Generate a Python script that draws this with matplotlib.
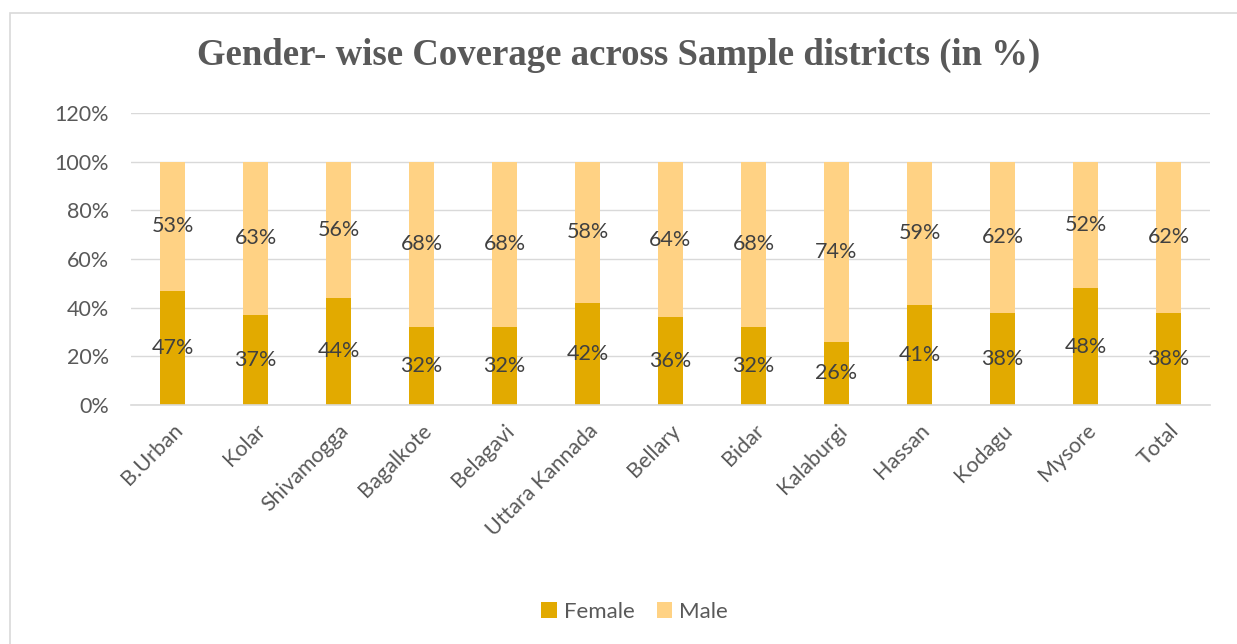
import matplotlib
matplotlib.use("Agg")
import matplotlib.pyplot as plt
import numpy as np
from matplotlib.patches import Rectangle
from matplotlib.ticker import PercentFormatter

districts = ["B.Urban", "Kolar", "Shivamogga", "Bagalkote", "Belagavi", "Uttara Kannada",
             "Bellary", "Bidar", "Kalaburgi", "Hassan", "Kodagu", "Mysore", "Total"]
female = [47, 37, 44, 32, 32, 42, 36, 32, 26, 41, 38, 48, 38]
male = [53, 63, 56, 68, 68, 58, 64, 68, 74, 59, 62, 52, 62]

FEMALE_C = "#E2AA00"
MALE_C = "#FFD284"
TEXT_C = "#595959"
GRID_C = "#D9D9D9"

plt.rcParams["font.family"] = ["Lato", "DejaVu Sans"]

fig = plt.figure(figsize=(12.37, 6.44), dpi=100)
fig.patches.append(Rectangle((10 / 1237, -0.01), 1.0, 1 - 13 / 644 + 0.01,
                             transform=fig.transFigure, fill=False,
                             edgecolor=GRID_C, linewidth=1.2))
ax = fig.add_axes([131 / 1237, 1 - 405 / 644, 1079 / 1237, 292 / 644])

x = np.arange(len(districts))
w = 0.31
bf = ax.bar(x, female, w, color=FEMALE_C, label="Female", zorder=2)
bm = ax.bar(x, male, w, bottom=female, color=MALE_C, label="Male", zorder=2)

# value labels centred in each segment
for i in range(len(districts)):
    ax.text(x[i], female[i] / 2, f"{female[i]}%", ha="center", va="center",
            fontsize=15.5, color="#404040", zorder=3)
    ax.text(x[i], female[i] + male[i] / 2, f"{male[i]}%", ha="center", va="center",
            fontsize=15.5, color="#404040", zorder=3)

ax.set_xlim(-0.5, len(districts) - 0.5)
ax.set_ylim(0, 120)
ax.set_yticks(range(0, 121, 20))
ax.yaxis.set_major_formatter(PercentFormatter(decimals=0))
ax.grid(axis="y", color=GRID_C, linewidth=1, zorder=0)
for s in ["top", "right", "left"]:
    ax.spines[s].set_visible(False)
ax.spines["bottom"].set_color(GRID_C)
ax.spines["bottom"].set_linewidth(1.2)
ax.tick_params(axis="both", length=0, colors=TEXT_C, labelsize=15.5)
ax.tick_params(axis="y", pad=16)
ax.tick_params(axis="x", pad=11)
ax.set_xticks(x)
ax.set_xticklabels(districts, rotation=45, ha="right", rotation_mode="anchor")

fig.text(0.5, 1 - 55 / 644, "Gender- wise Coverage across Sample districts (in %)",
         ha="center", va="center", fontsize=26.5, fontweight="bold",
         family="Liberation Serif", color=TEXT_C)

fig.legend(handles=[bf, bm], loc="center", bbox_to_anchor=(0.513, 1 - 612 / 644),
           ncol=2, frameon=False, fontsize=16, labelcolor=TEXT_C,
           handlelength=0.7, handleheight=0.7, handletextpad=0.3, columnspacing=1.0)

fig.savefig("out.png", dpi=100)
